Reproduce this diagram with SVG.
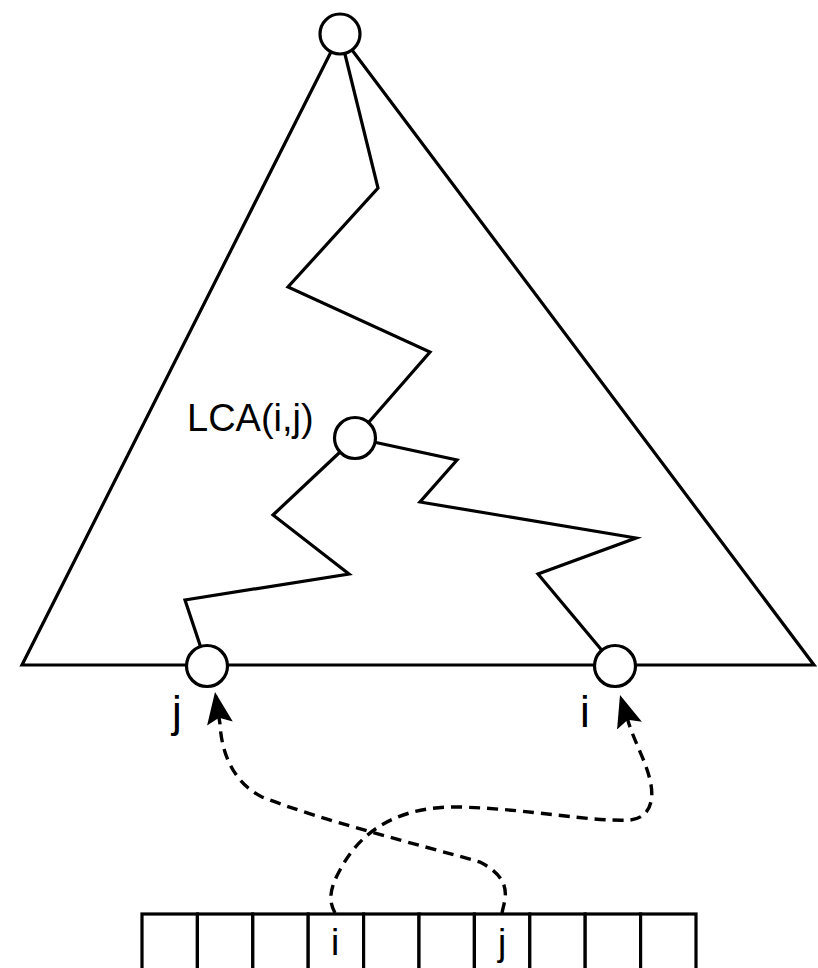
<svg xmlns="http://www.w3.org/2000/svg" width="818" height="968" viewBox="0 0 818 968">
<style>
.ln{fill:none;stroke:#000;stroke-width:3.2;stroke-linejoin:miter;}
.nd{fill:#fff;stroke:#000;stroke-width:3.2;}
.dash{fill:none;stroke:#000;stroke-width:3.4;stroke-dasharray:11 7;}
.lbl{font-family:"Liberation Sans",Arial,Helvetica,sans-serif;fill:#000;}
.cell{fill:#fff;stroke:#000;stroke-width:3.2;}
</style>
<defs>
<marker id="ah" markerUnits="userSpaceOnUse" markerWidth="40" markerHeight="32" viewBox="0 0 40 32" refX="32" refY="16" orient="auto">
<path d="M32,16 L0,3 L6,16 L0,29 Z" fill="#000"/>
</marker>
</defs>
<rect width="818" height="968" fill="#fff"/>
<g id="tree">
<path class="ln" d="M340,34 L22,665 L814,665 Z"/>
</g>
<g id="connectors">
<path class="ln" d="M340,34 L378,188 L288,287 L430,352 L355,438"/>
<path class="ln" d="M355,438 L273,515 L349,574 L185,600 L207,666"/>
<path class="ln" d="M355,438 L457,460 L420,502 L636,538 L538,574 L615,666"/>
<path class="dash" d="M502,913 C505,898 514,880 480,862 C420,845 320,820 262,797 C238,785 222,760 220,724 L215,692" marker-end="url(#ah)"/>
<path class="dash" d="M335,913 C328,900 330,888 340,870 C365,822 410,806 460,807 C530,809 590,822 630,820 C650,818 655,800 650,780 C646,762 636,745 629,724 L620,695" marker-end="url(#ah)"/>
</g>
<g id="root"><circle class="nd" cx="340" cy="34" r="20"/></g>
<g id="lca"><circle class="nd" cx="355" cy="438" r="20.5"/>
<text class="lbl" x="187" y="431" font-size="38">LCA(i,j)</text></g>
<g id="node-j"><circle class="nd" cx="207" cy="666" r="20.5"/>
<text class="lbl" x="177" y="727" font-size="44" text-anchor="middle">j</text></g>
<g id="node-i"><circle class="nd" cx="615" cy="666" r="20.5"/>
<text class="lbl" x="585" y="727" font-size="44" text-anchor="middle">i</text></g>
<g id="array">
<rect class="cell" x="142" y="914" width="55.4" height="70"/>
<rect class="cell" x="197.4" y="914" width="55.4" height="70"/>
<rect class="cell" x="252.8" y="914" width="55.4" height="70"/>
<rect class="cell" x="308.2" y="914" width="55.4" height="70"/>
<rect class="cell" x="363.6" y="914" width="55.4" height="70"/>
<rect class="cell" x="419" y="914" width="55.4" height="70"/>
<rect class="cell" x="474.4" y="914" width="55.4" height="70"/>
<rect class="cell" x="529.8" y="914" width="55.4" height="70"/>
<rect class="cell" x="585.2" y="914" width="55.4" height="70"/>
<rect class="cell" x="640.6" y="914" width="55.4" height="70"/>
<text class="lbl" x="335" y="955" font-size="37" text-anchor="middle">i</text>
<text class="lbl" x="502" y="955" font-size="37" text-anchor="middle">j</text>
</g>
</svg>
